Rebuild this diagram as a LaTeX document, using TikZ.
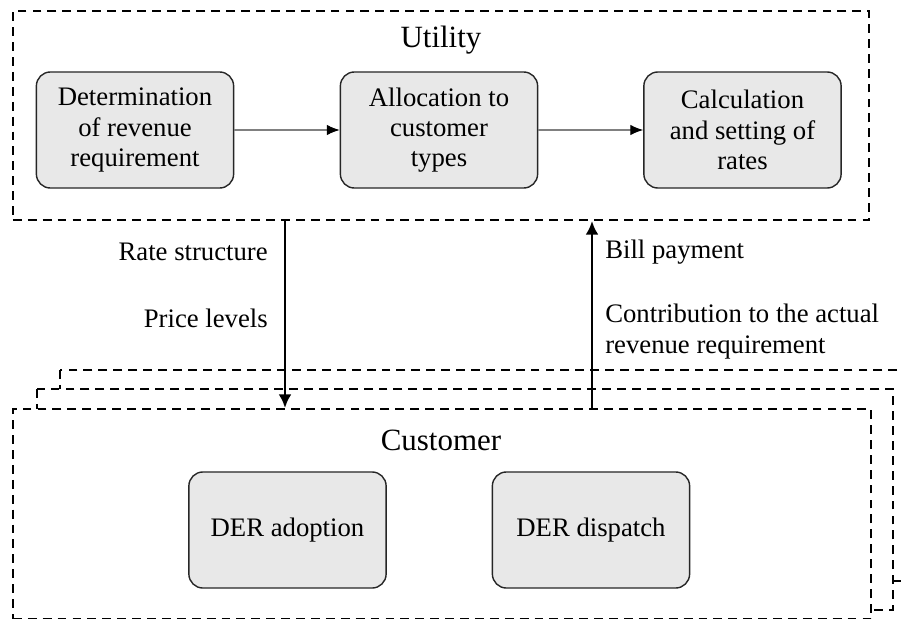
\documentclass[tikz,border=0pt]{standalone}
\usepackage{fontspec}
\setmainfont{Liberation Serif}
\usetikzlibrary{arrows, arrows.meta}
\usetikzlibrary{calc}

\begin{document}
\begin{tikzpicture}[x=0.025cm, y=-0.025cm,
    frame/.style={draw, line width=1.3pt, dash pattern=on 6.3pt off 4.3pt, fill=white},
    stepbox/.style={draw=black!85, line width=1pt, fill=black!9, rounded corners=0.35cm,
      minimum width=4.93cm, minimum height=2.9cm, align=center, inner sep=2pt,
      font=\fontsize{19}{21.5}\selectfont},
    txt/.style={font=\fontsize{19}{21.5}\selectfont, inner sep=0pt, align=left},
    title/.style={font=\fontsize{22}{24}\selectfont, inner sep=0pt},
    link/.style={draw=black!50, line width=0.8pt, -{Latex[color=black, length=3.2mm, width=2.6mm]}},
    flow/.style={draw, line width=1.9pt, -{Latex[length=3.4mm, width=3.2mm]}}]
      \useasboundingbox (0,0) rectangle (903,619);
      \clip (0,0) rectangle (903,619);

      % utility side
      \node[frame, minimum width=21.4cm, minimum height=5.225cm] (utility) at (441,115.5) {};
      \node[title] (ut) at (441,40) {Utility};
      \node[stepbox] (rev) at (135,130) {Determination\\of revenue\\requirement};
      \node[stepbox] (alloc) at (439,130) {Allocation to\\customer\\types};
      \node[stepbox] (rates) at (742.5,130) {Calculation\\and setting of\\rates};
      \draw[link] (rev) -- (alloc);
      \draw[link] (alloc) -- (rates);

      % customer side (stacked)
      \draw[frame] (60,370) rectangle (916,581);
      \draw[frame] (37,389) rectangle (893,610);
      \node[frame, minimum width=21.45cm, minimum height=5.25cm] (customer) at (442,514) {};
      \node[title] (cu) at (441,440) {Customer};
      \node[stepbox] (adopt) at (287.5,530) {DER adoption};
      \node[stepbox] (disp) at (591,530) {DER dispatch};

      % exchanges
      \coordinate (down) at (285,0);
      \coordinate (up) at (592,0);
      \draw[flow] (utility.south -| down) -- (customer.north -| down);
      \draw[flow] (customer.north -| up) -- (utility.south -| up);
      \node[txt, anchor=east] (struct) at (268,252) {Rate structure};
      \node[txt, anchor=east] (price) at (268,318) {Price levels};
      \node[txt, anchor=west] (bill) at (605,252) {Bill payment};
      \node[txt, anchor=north west] (contrib) at (605,304) {Contribution to the actual\\revenue requirement};
    \end{tikzpicture}
\end{document}
